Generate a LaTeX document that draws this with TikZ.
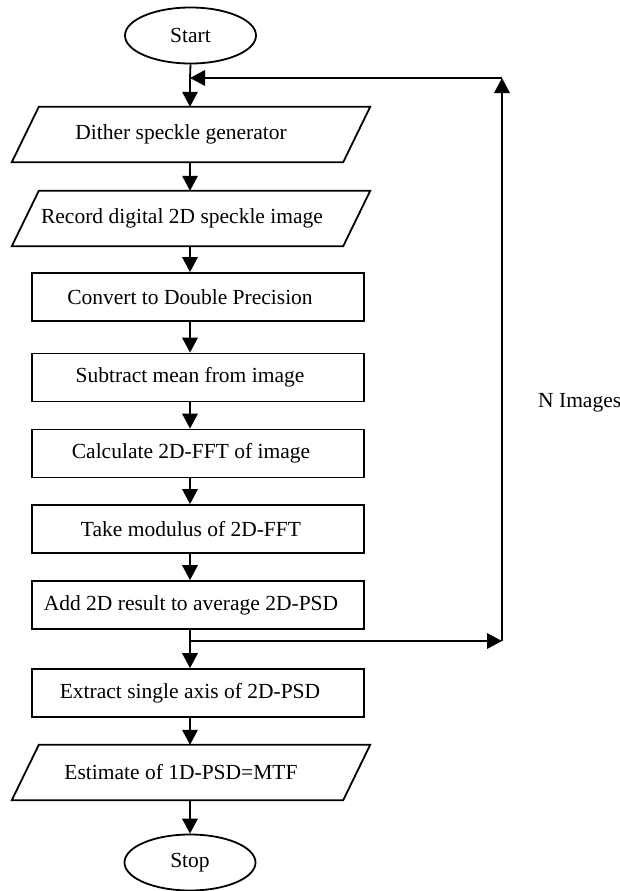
\documentclass[tikz,border=0pt]{standalone}
\usepackage{fontspec}
\setmainfont{Liberation Serif}
\usetikzlibrary{arrows.meta,shapes.geometric,calc}
\begin{document}
\begin{tikzpicture}[x=1pt,y=-1pt,
  every node/.style={font=\fontsize{21.5pt}{25pt}\selectfont, inner sep=0pt},
  lw/.style={line width=1.8pt},
  procbox/.style={draw, lw, rectangle, minimum width=332pt, minimum height=48pt},
  iobox/.style={rectangle, minimum width=358pt, minimum height=55pt},
  termbox/.style={draw, lw, ellipse, minimum width=131pt, minimum height=56pt},
  arr/.style={lw, -{Triangle[width=15.5pt,length=15pt]}},
  plain/.style={lw}
]
\useasboundingbox (0,0) rectangle (620,891);

% axis reference
\coordinate (ax) at (190,0);

% terminals
\node[termbox] (start) at (190.5,35.5) {Start};
\node[termbox] (stop) at (190,862.5) {Stop};

% parallelograms (bounding nodes)
\node[iobox] (p1) at (191,134.5) {};
\node[iobox] (p2) at (191,218.5) {};
\node[iobox] (p3) at (191,772.5) {};
\foreach \p in {p1,p2,p3}{
  \draw[lw, line join=miter] ($(\p.north west)+(27,0)$) -- (\p.north east)
     -- ($(\p.south east)+(-27,0)$) -- (\p.south west) -- cycle;
}
\node (t1) at (181,134.5) {Dither speckle generator};
\node (t2) at (182,218.5) {Record digital 2D speckle image};
\node (t3) at (181,772.5) {Estimate of 1D-PSD=MTF};

% process boxes
\node[procbox] (r1) at (198,297) {};
\node[procbox] (r2) at (198,377.5) {};
\node[procbox] (r3) at (198,453.5) {};
\node[procbox] (r4) at (198,529) {};
\node[procbox] (r5) at (198,605) {};
\node[procbox] (r6) at (198,693) {};
\node (s1) at (190,297) {Convert to Double Precision};
\node (s2) at (190,377.5) {Subtract mean from image};
\node (s3) at (191,453.5) {Calculate 2D-FFT of image};
\node (s4) at (191,529) {Take modulus of 2D-FFT};
\node (s5) at (191,605) {Add 2D result to average 2D-PSD};
\node (s6) at (190,693) {Extract single axis of 2D-PSD};

% loop coordinates
\coordinate (j1) at (190,78);
\coordinate (c1) at (502,78);
\coordinate (j2) at (190,641);
\coordinate (c2) at (502,641);

\node[anchor=base west] (nimg) at (538,407) {N Images};

% connectors
\draw[plain] (start.south) -- (j1);
\draw[arr] (j1) -- (p1.north -| ax);
\draw[arr] (p1.south -| ax) -- (p2.north -| ax);
\draw[arr] (p2.south -| ax) -- (r1.north -| ax);
\draw[arr] (r1.south -| ax) -- (r2.north -| ax);
\draw[arr] (r2.south -| ax) -- (r3.north -| ax);
\draw[arr] (r3.south -| ax) -- (r4.north -| ax);
\draw[arr] (r4.south -| ax) -- (r5.north -| ax);
\draw[plain] (r5.south -| ax) -- (j2);
\draw[arr] (j2) -- (r6.north -| ax);
\draw[arr] (r6.south -| ax) -- (p3.north -| ax);
\draw[arr] (p3.south -| ax) -- (stop.north);

\draw[arr] (j2) -- (c2);
\draw[arr] (c2) -- (c1);
\draw[arr] (c1) -- (j1);
\end{tikzpicture}
\end{document}
